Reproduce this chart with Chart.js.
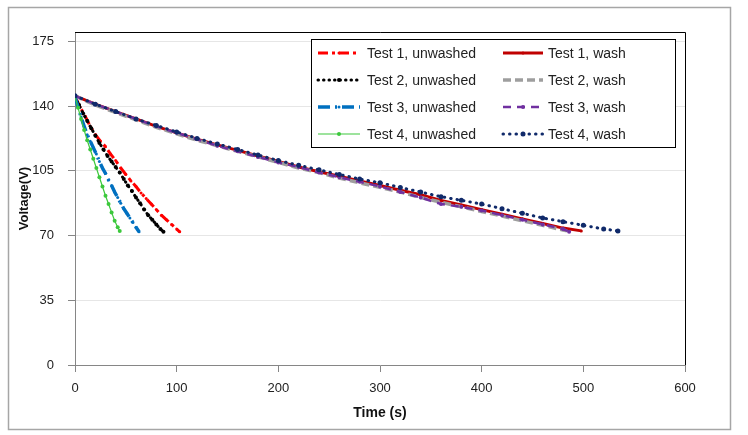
<!DOCTYPE html>
<html>
<head>
<meta charset="utf-8">
<script src="https://cdn.jsdelivr.net/npm/chart.js@4.4.0/dist/chart.umd.min.js"></script>
<style>
  html, body { margin: 0; padding: 0; background: #fff; }
  #wrap { width: 748px; height: 435px; position: relative; }
</style>
</head>
<body>
<div id="wrap"><canvas id="chart"></canvas></div>
<script>
// Time (s) and voltage (V)
const t1uX = [0, 5, 10, 15, 20, 25, 30, 35, 40, 45, 50, 55, 60, 65, 70, 75, 80, 85, 90, 95, 100, 103];
const t1uY = [145, 139.5, 134.5, 129, 124.5, 121, 118, 114, 110.5, 106.5, 103, 99.5, 96.5, 93, 90, 87, 84, 81, 78.5, 76, 73.5, 72];

const t2uX = [0, 4, 8, 12, 16, 20, 24, 28, 32, 36, 40, 44, 48, 52, 56, 60, 64, 68, 72, 76, 80, 84, 87];
const t2uY = [145, 140.5, 136, 132, 128, 124, 120, 116.5, 113, 110, 107, 104, 100.5, 97, 94, 90.5, 87.5, 84, 81, 78.5, 76, 73.5, 72];

const t3uX = [0, 3, 6, 9, 12, 15, 18, 21, 24, 27, 30, 33, 36, 39, 42, 45, 48, 51, 54, 57, 60, 63];
const t3uY = [145, 139.5, 134, 129, 124.5, 121, 117.5, 114, 110, 106.5, 103.5, 100, 97, 93.5, 90.5, 87.5, 84.5, 82, 79.5, 77, 74.5, 72];

const t4uX = [0, 3, 6, 9, 12, 15, 18, 21, 24, 27, 30, 33, 36, 39, 42, 44];
const t4uY = [145, 139, 133, 127, 121.5, 116.5, 111.5, 106.5, 101.5, 96.5, 91.5, 87, 82.5, 78, 74.5, 72.5];

const t1wX = [0, 20, 40, 60, 80, 100, 120, 140, 160, 180, 200, 220, 240, 260, 280, 300, 320, 340, 360, 380, 400, 420, 440, 460, 480, 498];
const t1wY = [145.5, 141, 137, 133, 129, 125.5, 122, 119, 116, 113, 110, 107, 104.5, 102, 99.5, 97, 94.5, 92, 89, 86.5, 84, 81.5, 79, 76.5, 74, 72.5];

const t2wX = [0, 20, 40, 60, 80, 100, 120, 140, 160, 180, 200, 220, 240, 260, 280, 300, 320, 340, 360, 380, 400, 420, 440, 460, 480, 484];
const t2wY = [145.5, 140.5, 136.5, 132.5, 128.5, 125, 121.5, 118.5, 115.5, 112.5, 109.5, 106.5, 104, 101, 98.5, 96, 93.5, 90.5, 88, 85.5, 83, 80.5, 78, 75.5, 73, 72.5];

const t3wX = [0, 20, 40, 60, 80, 100, 120, 140, 160, 180, 200, 220, 240, 260, 280, 300, 320, 340, 360, 380, 400, 420, 440, 460, 480, 486];
const t3wY = [145.5, 141, 137, 133, 129, 125.5, 122, 118.5, 115.5, 112.5, 109.5, 107, 104, 101.5, 99, 96.5, 93.5, 90.5, 87, 85.5, 83.5, 81, 78.5, 76, 73.5, 72];

const t4wX = [0, 20, 40, 60, 80, 100, 120, 140, 160, 180, 200, 220, 240, 260, 280, 300, 320, 340, 360, 380, 400, 420, 440, 460, 480, 500, 520, 534];
const t4wY = [145.5, 141, 137, 133, 129.5, 126, 122.5, 119.5, 116.5, 113.5, 110.5, 108, 105.5, 103, 100.5, 98.5, 96, 93.5, 91, 89, 87, 84.5, 82, 79.5, 77.5, 75.5, 73.5, 72.5];

const xTicks = [0, 100, 200, 300, 400, 500, 600];
const yTicks = [0, 35, 70, 105, 140, 175];

const pts = (xs, ys) => xs.map((x, i) => ({ x, y: ys[i] }));

function series(label, xs, ys, color, width, dash, radius, extra) {
  return Object.assign({
    label,
    data: pts(xs, ys),
    borderColor: color,
    backgroundColor: color,
    borderWidth: width,
    borderDash: dash,
    pointRadius: radius,
    pointBorderWidth: 0,
    pointBackgroundColor: color,
    tension: 0,
    fill: false,
  }, extra || {});
}

// Excel order: unwashed / wash alternating, later series on top
const datasets = [
  series('Test 1, unwashed', t1uX, t1uY, '#FF0000', 3, [10, 4, 3, 4], 1.5),
  series('Test 1, wash', t1wX, t1wY, '#C00000', 3, [], 1.5),
  series('Test 2, unwashed', t2uX, t2uY, '#000000', 3, [0.5, 5], 2, { borderCapStyle: 'round' }),
  series('Test 2, wash', t2wX, t2wY, '#9E9E9E', 3.5, [8, 4], 0),
  series('Test 3, unwashed', t3uX, t3uY, '#0070C0', 3.5, [12, 5, 2, 5], 1.5),
  series('Test 3, wash', t3wX, t3wY, '#7030A0', 2.5, [8, 6], 2),
  series('Test 4, unwashed', t4uX, t4uY, '#3CC83C', 1.2, [], 2),
  series('Test 4, wash', t4wX, t4wY, '#102A6A', 3, [0.5, 6], 2.5, { borderCapStyle: 'round' }),
];
datasets.forEach((d, i) => { d.order = datasets.length - i; });

const FONT = "'Liberation Sans', Arial, sans-serif";

// frame, plot border and the boxed two-column legend inside the plot
const frameAndLegend = {
  id: 'frameAndLegend',
  beforeDraw(chart) {
    const ctx = chart.ctx;
    ctx.save();
    ctx.fillStyle = '#fff';
    ctx.fillRect(0, 0, chart.width, chart.height);
    ctx.strokeStyle = '#A6A6A6';
    ctx.lineWidth = 1.5;
    ctx.strokeRect(8.5, 7.5, 722, 422);
    ctx.restore();
  },
  beforeDatasetsDraw(chart) {
    const { ctx, chartArea: a } = chart;
    ctx.save();
    ctx.strokeStyle = '#000';
    ctx.lineWidth = 1;
    ctx.beginPath();
    ctx.moveTo(a.left, a.top + 0.5);
    ctx.lineTo(a.right + 0.5, a.top + 0.5);
    ctx.lineTo(a.right + 0.5, a.bottom);
    ctx.stroke();
    ctx.restore();
  },
  afterDraw(chart) {
    const ctx = chart.ctx;
    const box = { x: 311, y: 39, w: 364, h: 108 };
    const rows = [53, 80, 107, 134];
    const cols = [{ s0: 318, s1: 360, tx: 367 }, { s0: 503, s1: 543, tx: 548 }];
    ctx.save();
    ctx.fillStyle = '#fff';
    ctx.fillRect(box.x, box.y, box.w, box.h);
    ctx.strokeStyle = '#000';
    ctx.lineWidth = 1;
    ctx.strokeRect(box.x + 0.5, box.y + 0.5, box.w, box.h);
    chart.data.datasets.forEach((d, i) => {
      const c = cols[i % 2];
      const y = rows[Math.floor(i / 2)];
      ctx.save();
      ctx.strokeStyle = d.borderColor;
      ctx.lineWidth = d.borderWidth;
      ctx.lineCap = d.borderCapStyle || 'butt';
      ctx.setLineDash(d.borderDash || []);
      ctx.beginPath();
      ctx.moveTo(c.s0, y);
      ctx.lineTo(c.s1, y);
      ctx.stroke();
      if (d.pointRadius > 0) {
        ctx.fillStyle = d.borderColor;
        ctx.beginPath();
        ctx.arc((c.s0 + c.s1) / 2, y, d.pointRadius, 0, Math.PI * 2);
        ctx.fill();
      }
      ctx.restore();
      ctx.fillStyle = '#222';
      ctx.font = '14px ' + FONT;
      ctx.textBaseline = 'middle';
      ctx.textAlign = 'left';
      ctx.fillText(d.label, c.tx, y + 1);
    });
    ctx.restore();
  },
};

new Chart(document.getElementById('chart'), {
  type: 'line',
  data: { datasets },
  plugins: [frameAndLegend],
  options: {
    responsive: true,
    maintainAspectRatio: false,
    animation: false,
    layout: { padding: { top: 32, right: 63, bottom: 0, left: 0 } },
    plugins: {
      legend: { display: false },
      tooltip: { enabled: false },
    },
    scales: {
      x: {
        type: 'linear',
        min: 0,
        max: 600,
        afterBuildTicks: (s) => { s.ticks = xTicks.map(v => ({ value: v })); },
        afterFit: (s) => { s.height = 70; },
        ticks: { font: { size: 13, family: FONT }, color: '#222', padding: 9 },
        grid: { drawOnChartArea: false, drawTicks: true, tickLength: 7, tickColor: '#868686' },
        border: { color: '#868686', width: 1 },
        title: {
          display: true,
          text: 'Time (s)',
          color: '#111',
          font: { size: 14, weight: 'bold', family: FONT },
          padding: { top: 0, bottom: 13 },
        },
      },
      y: {
        min: 0,
        max: 180,
        afterBuildTicks: (s) => { s.ticks = yTicks.map(v => ({ value: v })); },
        afterFit: (s) => { s.width = 75; },
        ticks: { font: { size: 13, family: FONT }, color: '#222', padding: 14 },
        grid: { color: '#E6E6E6', tickLength: 7, tickColor: '#868686' },
        border: { color: '#868686', width: 1 },
        title: {
          display: true,
          text: 'Voltage(V)',
          color: '#111',
          font: { size: 13, weight: 'bold', family: FONT },
          padding: { top: 17, bottom: 0 },
        },
      },
    },
  },
});
</script>
</body>
</html>
